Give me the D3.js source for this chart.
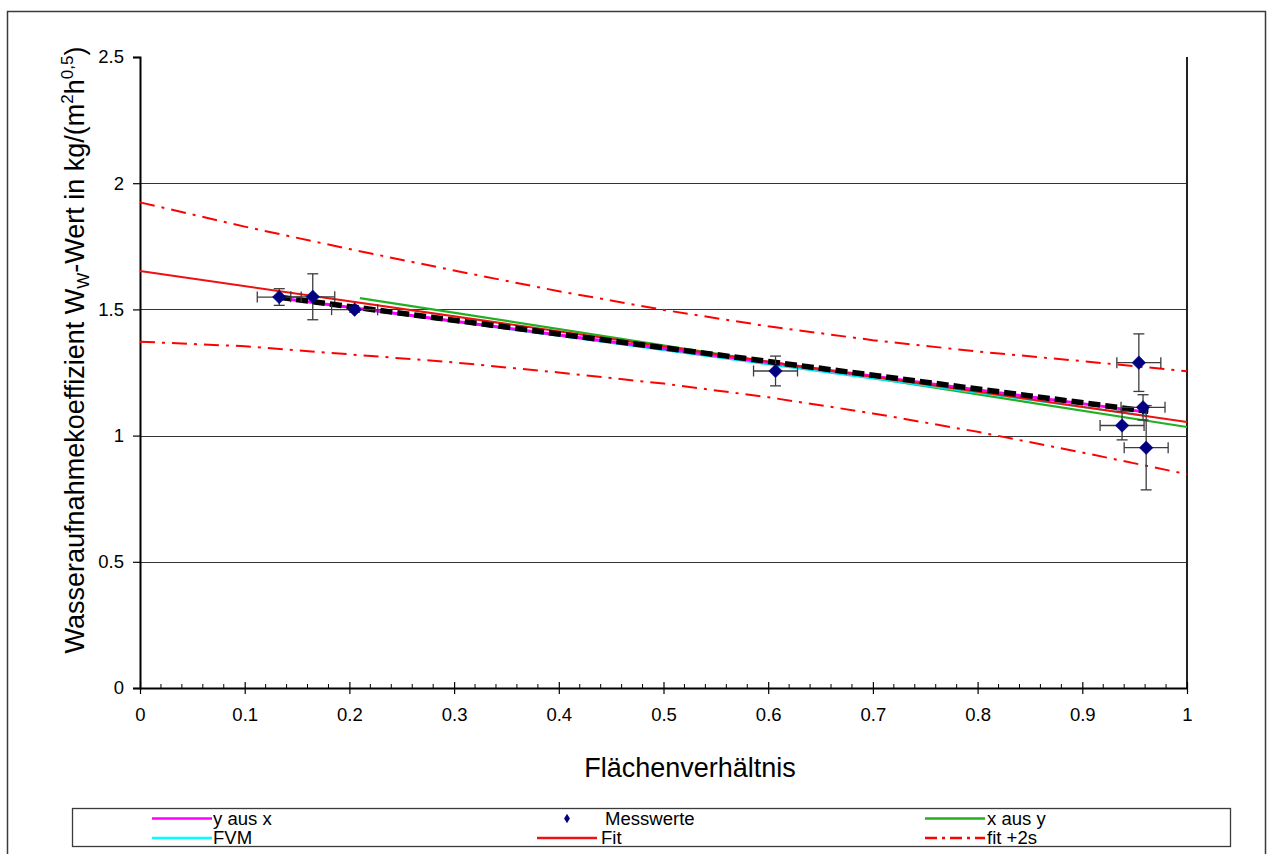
<!DOCTYPE html>
<html><head><meta charset="utf-8">
<script src="https://cdn.jsdelivr.net/npm/d3@7"></script>
<style>body{margin:0;background:#fff;}svg{display:block;font-family:"Liberation Sans",Arial,sans-serif;}</style>
</head><body>
<svg id="c" width="1271" height="854"></svg>
<script>
// ---- data ----
const xTickValues = [0,0.1,0.2,0.3,0.4,0.5,0.6,0.7,0.8,0.9,1];
const xTickLabels = ["0","0.1","0.2","0.3","0.4","0.5","0.6","0.7","0.8","0.9","1"];
const yTickValues = [0,0.5,1,1.5,2,2.5];
const yTickLabels = ["0","0.5","1","1.5","2","2.5"];

const messX = [0.133,0.165,0.205,0.607,0.954,0.958,0.938,0.961];
const messY = [1.549,1.550,1.499,1.256,1.289,1.112,1.040,0.952];
const errX  = [0.021,0.021,0.022,0.021,0.021,0.021,0.021,0.021];
const errY  = [0.033,0.091,0.010,0.059,0.114,0.050,0.057,0.167];

const fitX = [0,1];
const fitY = [1.652,1.054];
const yAusXX = [0.133,0.963];
const yAusXY = [1.545,1.092];
const fvmX = [0.133,0.963];
const fvmY = [1.545,1.078];
const xAusYX = [0.210,1.0];
const xAusYY = [1.545,1.034];
const dashedX = [0.133,0.963];
const dashedY = [1.548,1.096];

const bandX     = [0,0.1,0.2,0.3,0.4,0.5,0.6,0.7,0.8,0.9,1];
const bandUpper = [1.924,1.828,1.739,1.654,1.572,1.498,1.433,1.378,1.333,1.295,1.255];
const bandLower = [1.372,1.354,1.322,1.290,1.250,1.206,1.152,1.088,1.015,0.933,0.847];

// ---- chart ----
const svg = d3.select("#c");
const x = d3.scaleLinear().domain([0,1]).range([140,1187]);
const y = d3.scaleLinear().domain([0,2.5]).range([688,57]);

// outer border
svg.append("rect").attr("x",7.5).attr("y",11.5).attr("width",1258).attr("height",860)
  .attr("fill","none").attr("stroke","#3a3a3a").attr("stroke-width",1.5);

// gridlines
svg.append("g").selectAll("line").data(yTickValues.filter(v=>v>0 && v<2.5)).join("line")
  .attr("x1",x(0)).attr("x2",x(1)).attr("y1",d=>Math.round(y(d))+0.5).attr("y2",d=>Math.round(y(d))+0.5)
  .attr("stroke","#333").attr("stroke-width",1);

// right frame line
svg.append("line").attr("x1",x(1)).attr("x2",x(1)).attr("y1",y(2.5)).attr("y2",y(0))
  .attr("stroke","#222").attr("stroke-width",2);

// axes
const yAxis = d3.axisLeft(y).tickValues(yTickValues).tickFormat((d,i)=>yTickLabels[i]).tickSize(7).tickPadding(9);
const gy = svg.append("g").attr("transform",`translate(${x(0)},0)`).call(yAxis);
gy.select(".domain").attr("stroke","#000").attr("stroke-width",2);
gy.selectAll(".tick line").attr("stroke","#000").attr("stroke-width",1.2);
gy.selectAll(".tick text").attr("font-size",18.5).attr("fill","#000").attr("font-family","Liberation Sans, Arial, sans-serif");

const xAxis = d3.axisBottom(x).tickValues(xTickValues).tickFormat((d,i)=>xTickLabels[i]).tickSizeInner(6).tickSizeOuter(0).tickPadding(14);
const gx = svg.append("g").attr("transform",`translate(0,${y(0)})`).call(xAxis);
gx.select(".domain").attr("stroke","#000").attr("stroke-width",2);
gx.selectAll(".tick line").attr("stroke","#000").attr("stroke-width",1.2).attr("y1",-6);
gx.selectAll(".tick text").attr("font-size",18.5).attr("fill","#000").attr("font-family","Liberation Sans, Arial, sans-serif");
// minor ticks
const minor = d3.range(0,1.0001,0.02).filter(v=>Math.abs(v*10-Math.round(v*10))>1e-6);
svg.append("g").selectAll("line").data(minor).join("line")
  .attr("x1",d=>x(d)).attr("x2",d=>x(d)).attr("y1",y(0)-4).attr("y2",y(0))
  .attr("stroke","#000").attr("stroke-width",1);

// line helper
const lineGen = d3.line().x(d=>x(d[0])).y(d=>y(d[1]));
function drawLine(xs,ys,color,width,dash){
  const p = svg.append("path").datum(xs.map((v,i)=>[v,ys[i]]))
    .attr("d",lineGen).attr("fill","none").attr("stroke",color).attr("stroke-width",width);
  if(dash) p.attr("stroke-dasharray",dash);
  return p;
}
drawLine(bandX,bandUpper,"#ff0000",2,"15,7,3,7");
drawLine(bandX,bandLower,"#ff0000",2,"15,7,3,7");
drawLine(xAusYX,xAusYY,"#22b022",2.2);
drawLine(fvmX,fvmY,"#00e5ee",2);
drawLine(yAusXX,yAusXY,"#ff00ff",3);
drawLine(fitX,fitY,"#ee1111",2);
drawLine(dashedX,dashedY,"#000",5.5,"12,5");

// error bars
const eb = svg.append("g").attr("stroke","#3c3c3c").attr("stroke-width",1.3);
const cap = 5.5;
messX.forEach((mx,i)=>{
  const cx = x(mx), cy = y(messY[i]);
  const x1 = x(mx-errX[i]), x2 = x(mx+errX[i]);
  const y1 = y(messY[i]+errY[i]), y2 = y(messY[i]-errY[i]);
  eb.append("line").attr("x1",x1).attr("x2",x2).attr("y1",cy).attr("y2",cy);
  eb.append("line").attr("x1",x1).attr("x2",x1).attr("y1",cy-cap).attr("y2",cy+cap);
  eb.append("line").attr("x1",x2).attr("x2",x2).attr("y1",cy-cap).attr("y2",cy+cap);
  eb.append("line").attr("x1",cx).attr("x2",cx).attr("y1",y1).attr("y2",y2);
  eb.append("line").attr("x1",cx-cap).attr("x2",cx+cap).attr("y1",y1).attr("y2",y1);
  eb.append("line").attr("x1",cx-cap).attr("x2",cx+cap).attr("y1",y2).attr("y2",y2);
});
// markers
const diamond = d3.symbol().type(d3.symbolSquare).size(92);
svg.append("g").selectAll("path").data(messX.map((v,i)=>[v,messY[i]])).join("path")
  .attr("d",diamond).attr("transform",d=>`translate(${x(d[0])},${y(d[1])}) rotate(45)`)
  .attr("fill","#000080").attr("stroke","#000080").attr("stroke-width",0.5);

// axis titles
svg.append("text").attr("x",690).attr("y",777).attr("text-anchor","middle")
  .attr("font-size",27).text("Flächenverhältnis");
const yt = svg.append("text").attr("transform","translate(84,350) rotate(-90)").attr("text-anchor","middle").attr("font-size",27);
yt.append("tspan").text("Wasseraufnahmekoeffizient W");
yt.append("tspan").attr("font-size",17).attr("dy",5).text("W");
yt.append("tspan").attr("dy",-5).text("-Wert in kg/(m");
yt.append("tspan").attr("font-size",17).attr("dy",-11).text("2");
yt.append("tspan").attr("dy",11).text("h");
yt.append("tspan").attr("font-size",17).attr("dy",-11).text("0,5");
yt.append("tspan").attr("dy",11).text(")");

// legend
const lg = svg.append("g");
lg.append("rect").attr("x",72.5).attr("y",808.5).attr("width",1158).attr("height",38)
  .attr("fill","#fff").attr("stroke","#3a3a3a").attr("stroke-width",1.3);
const legendItems = [
  {label:"y aus x", lx:152, tx:213, row:0, type:"line", color:"#ff00ff"},
  {label:"FVM", lx:152, tx:213, row:1, type:"line", color:"#00ffff"},
  {label:"Messwerte", lx:537, tx:605, row:0, type:"marker", color:"#000080"},
  {label:"Fit", lx:537, tx:601, row:1, type:"line", color:"#ee1111"},
  {label:"x aus y", lx:925, tx:987, row:0, type:"line", color:"#22b022"},
  {label:"fit +2s", lx:925, tx:987, row:1, type:"dash", color:"#ff0000"}
];
legendItems.forEach(it=>{
  const cy = 818.5 + it.row*19.5;
  if(it.type==="marker"){
    lg.append("path").attr("d",d3.symbol().type(d3.symbolSquare).size(30))
      .attr("transform",`translate(567,${cy}) scale(0.75,1.2) rotate(45)`).attr("fill",it.color);
  } else {
    const l = lg.append("line").attr("x1",it.lx).attr("x2",it.lx+60).attr("y1",cy).attr("y2",cy)
      .attr("stroke",it.color).attr("stroke-width",2.5);
    if(it.type==="dash") l.attr("stroke-dasharray","12,5,3,5");
  }
  lg.append("text").attr("x",it.tx).attr("y",cy+6.5).attr("font-size",17.5)
    .attr("transform",`translate(${it.tx*(1-1.06)},0) scale(1.06,1)`).text(it.label);
});
</script>
</body></html>
